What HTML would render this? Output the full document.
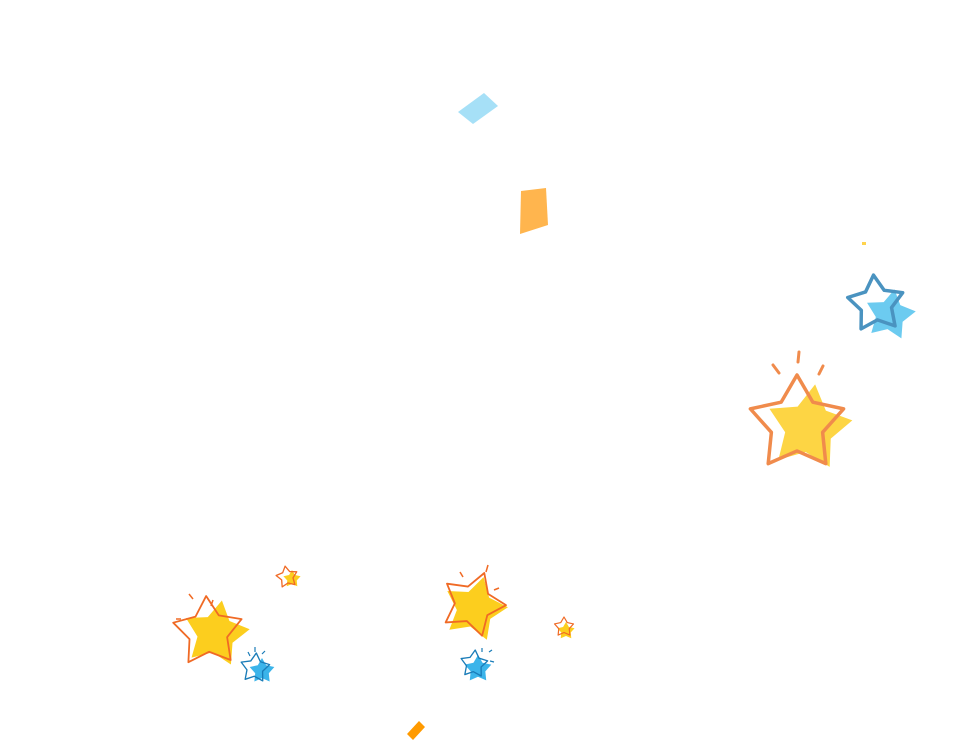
<!DOCTYPE html>
<html><head><meta charset="utf-8"><style>html,body{margin:0;padding:0;background:#fff;}svg{display:block}</style></head>
<body>
<svg width="966" height="741" viewBox="0 0 966 741" xmlns="http://www.w3.org/2000/svg">
<defs>
<polygon id="s" points="0,-1 0.324,-0.445 0.951,-0.309 0.523,0.170 0.588,0.809 0,0.55 -0.588,0.809 -0.523,0.170 -0.951,-0.309 -0.324,-0.445"/>
</defs>
<!-- confetti -->
<polygon points="458,112 484,93 498,106 473,124" fill="#a6e0f7"/>
<polygon points="521,191 546,188 548,225 520,234" fill="#ffb54e"/>
<polygon points="407,734 419,721 425,727 413,740" fill="#ff9a00"/>
<rect x="862" y="242" width="4" height="3" fill="#ffd34d"/>
<!-- big right star -->
<use href="#s" transform="translate(809,428) rotate(8) scale(44)" fill="#fdd544"/>
<use href="#s" transform="translate(797,424) scale(49)" fill="none" stroke="#f08b4c" stroke-width="0.0714" stroke-linejoin="round"/>
<g stroke="#f08b4c" stroke-width="3" stroke-linecap="round"><line x1="799" y1="352" x2="798" y2="362"/><line x1="773" y1="365" x2="779" y2="373"/><line x1="823" y1="366" x2="819" y2="374"/></g>
<!-- blue top right -->
<use href="#s" transform="translate(890,315) rotate(10) scale(26)" fill="#6ccbf0"/>
<use href="#s" transform="translate(876,304) rotate(-5) scale(29)" fill="none" stroke="#4a93c0" stroke-width="0.12" stroke-linejoin="round"/>
<!-- left yellow -->
<use href="#s" transform="translate(216,634) rotate(10) scale(34)" fill="#fcce1e"/>
<use href="#s" transform="translate(208,632) rotate(-3) scale(36)" fill="none" stroke="#f06a25" stroke-width="0.05" stroke-linejoin="round"/>
<g stroke="#f06a25" stroke-width="1.5"><line x1="189" y1="594" x2="193" y2="599"/><line x1="213" y1="600" x2="211" y2="606"/><line x1="176" y1="619" x2="181" y2="619"/></g>
<!-- small 288,577 -->
<use href="#s" transform="translate(292,579) scale(9)" fill="#fcce1e"/>
<use href="#s" transform="translate(287,577) rotate(-10) scale(11)" fill="none" stroke="#f06a25" stroke-width="0.12" stroke-linejoin="round"/>
<!-- blue small left -->
<use href="#s" transform="translate(262,671) scale(13)" fill="#3bb4ea"/>
<use href="#s" transform="translate(255,668) rotate(5) scale(15)" fill="none" stroke="#1a7cb8" stroke-width="0.09" stroke-linejoin="round"/>
<g stroke="#1a7cb8" stroke-width="1.2"><line x1="248" y1="652" x2="250" y2="656"/><line x1="255" y1="647" x2="255" y2="652"/><line x1="262" y1="654" x2="265" y2="651"/></g>
<!-- middle yellow -->
<use href="#s" transform="translate(475,609) rotate(15) scale(33)" fill="#fcce1e"/>
<use href="#s" transform="translate(473,604) rotate(20) scale(33)" fill="none" stroke="#f06a25" stroke-width="0.055" stroke-linejoin="round"/>
<g stroke="#f06a25" stroke-width="1.5"><line x1="460" y1="572" x2="463" y2="577"/><line x1="488" y1="565" x2="486" y2="572"/><line x1="494" y1="590" x2="499" y2="588"/></g>
<!-- small right 564,629 -->
<use href="#s" transform="translate(566,631) scale(9)" fill="#fcce1e"/>
<use href="#s" transform="translate(564,627) scale(10)" fill="none" stroke="#f06a25" stroke-width="0.12" stroke-linejoin="round"/>
<!-- blue middle -->
<use href="#s" transform="translate(478,669) scale(14)" fill="#3bb4ea"/>
<use href="#s" transform="translate(474,664) rotate(5) scale(14)" fill="none" stroke="#1a7cb8" stroke-width="0.095" stroke-linejoin="round"/>
<g stroke="#1a7cb8" stroke-width="1.2"><line x1="482" y1="648" x2="482" y2="652"/><line x1="489" y1="652" x2="492" y2="650"/><line x1="490" y1="661" x2="494" y2="662"/></g>
</svg>
</body></html>
